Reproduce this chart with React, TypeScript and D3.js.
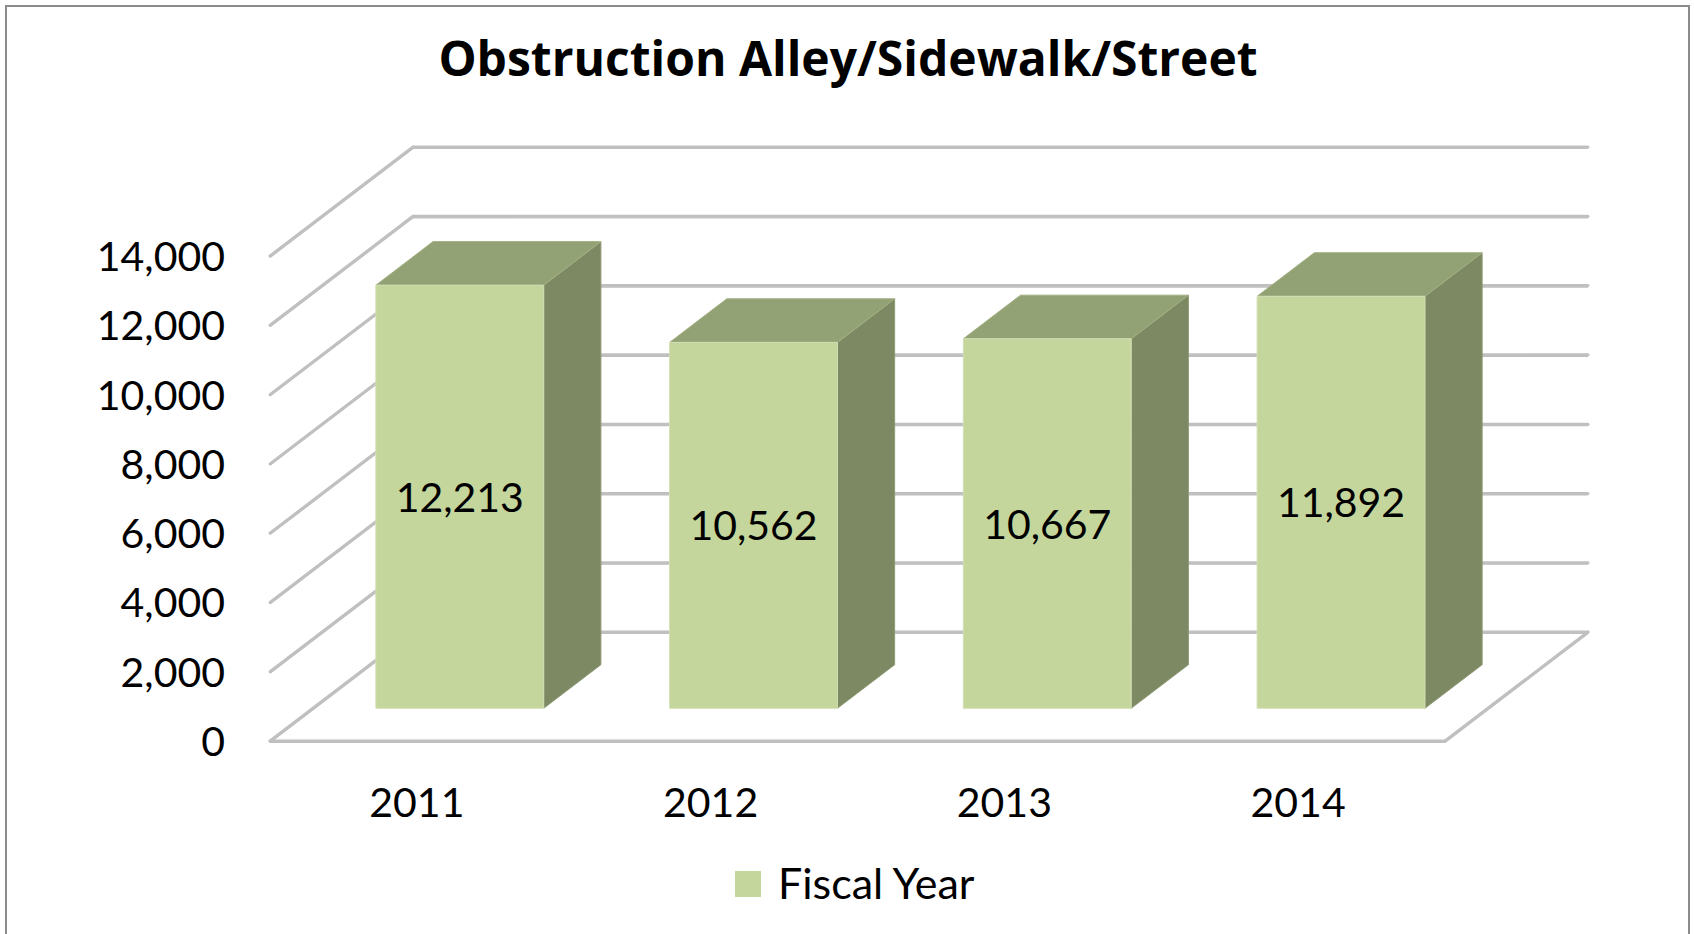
import * as d3 from 'd3';

const W = 1694;
const H = 934;

const TITLE = 'Obstruction Alley/Sidewalk/Street';
const YEARS = ['2011', '2012', '2013', '2014'];
const COUNTS = [12213, 10562, 10667, 11892];
const Y_TICKS = [0, 2000, 4000, 6000, 8000, 10000, 12000, 14000];
const LEGEND_LABEL = 'Fiscal Year';

const FRONT = '#c4d69b';
const TOP = '#93a274';
const SIDE = '#7d8962';
const GRID = '#c0c0c0';
const GRID_SHADE = '#a3a3a3';
const FONT = 'Lato, "Open Sans", sans-serif';
const TITLE_FONT = '"Open Sans", Lato, sans-serif';

// back wall box + depth vector of the 3D floor
const back = { left: 413, right: 1588, top: 147, bottom: 632 };
const depth = { dx: -143, dy: 109 };
// bar depth slot, as fraction from back wall toward the front
const barBack = 0.3;
const barFront = 0.7;

export default function App() {
  const x = d3.scaleBand<string>()
    .domain(YEARS)
    .range([back.left, back.right])
    .paddingInner(0.75 / 1.75)
    .paddingOuter(0.75 / 3.5);
  const y = d3.scaleLinear().domain([0, 14000]).range([back.bottom, back.top]);
  const bw = x.bandwidth();
  const fmt = d3.format(',');

  const at = (px: number, py: number, f: number) => [px + depth.dx * f, py + depth.dy * f];
  const poly = (pts: number[][]) => pts.map(p => p.join(',')).join(' ');

  const gridLine = (key: string, x1: number, y1: number, x2: number, y2: number) => (
    <g key={key}>
      <line x1={x1} y1={y1 + 1.5} x2={x2} y2={y2 + 1.5} stroke={GRID_SHADE} strokeWidth={1.2} opacity={0.7} />
      <line x1={x1} y1={y1} x2={x2} y2={y2} stroke={GRID} strokeWidth={3} strokeLinecap="round" />
    </g>
  );

  const y0 = y(0);
  const [flx, fly] = at(back.left, y0, 1);
  const [frx, fry] = at(back.right, y0, 1);

  return (
    <svg width={W} height={H} style={{ position: 'absolute', left: 0, top: 0, background: '#fff' }}>
      <rect x={6} y={6} width={1683} height={H + 10} fill="#fff" stroke="#8c8c8c" strokeWidth={2} />

      <text x={848} y={76} textAnchor="middle" fontFamily={TITLE_FONT} fontWeight={700} fontSize={48} fill="#000">
        {TITLE}
      </text>

      {/* walls */}
      {Y_TICKS.map(t => {
        const yy = y(t);
        const [lx, ly] = at(back.left, yy, 1);
        return (
          <g key={t}>
            {gridLine('d' + t, lx, ly, back.left, yy)}
            {gridLine('h' + t, back.left, yy, back.right, yy)}
          </g>
        );
      })}
      {gridLine('floor-front', flx, fly, frx, fry)}
      {gridLine('floor-right', frx, fry, back.right, y0)}

      {/* y axis labels */}
      {Y_TICKS.map(t => {
        const [, ly] = at(back.left, y(t), 1);
        return (
          <text key={t} x={225} y={ly + 15} textAnchor="end" fontFamily={FONT} fontSize={41} fill="#000">
            {fmt(t)}
          </text>
        );
      })}

      {/* bars */}
      {YEARS.map((yr, i) => {
        const v = COUNTS[i];
        const bx = x(yr) as number;
        const ft = at(bx, y(v), barFront);
        const ftr = at(bx + bw, y(v), barFront);
        const fbr = at(bx + bw, y0, barFront);
        const fb = at(bx, y0, barFront);
        const bt = at(bx, y(v), barBack);
        const btr = at(bx + bw, y(v), barBack);
        const bbr = at(bx + bw, y0, barBack);
        const cx = (ft[0] + ftr[0]) / 2;
        const cy = (ft[1] + fb[1]) / 2;
        return (
          <g key={yr}>
            <polygon points={poly([ftr, btr, bbr, fbr])} fill={SIDE} stroke="#8f9a76" strokeWidth={1} />
            <polygon points={poly([ft, ftr, btr, bt])} fill={TOP} stroke="#a3b083" strokeWidth={1} />
            <polygon points={poly([ft, ftr, fbr, fb])} fill={FRONT} stroke="#d3dfb6" strokeWidth={1} />
            <text x={cx} y={cy + 15} textAnchor="middle" fontFamily={FONT} fontSize={41} fill="#000">
              {fmt(v)}
            </text>
          </g>
        );
      })}

      {/* x axis labels */}
      {YEARS.map(yr => {
        const [lx] = at((x(yr) as number) + bw / 2, y0, 1);
        return (
          <text key={yr} x={lx} y={817} textAnchor="middle" fontFamily={FONT} fontSize={41} fill="#000">
            {yr}
          </text>
        );
      })}

      {/* legend */}
      <rect x={735} y={871} width={26} height={26} fill={FRONT} />
      <text x={778} y={899} fontFamily={FONT} fontSize={43} fill="#000">{LEGEND_LABEL}</text>
    </svg>
  );
}
